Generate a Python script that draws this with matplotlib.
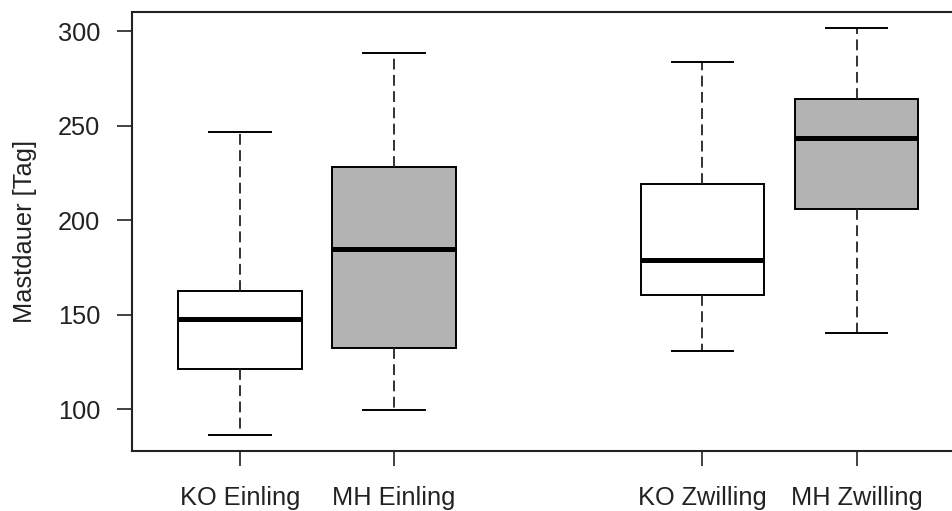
import matplotlib
matplotlib.use("Agg")
import matplotlib.pyplot as plt

labels = ["KO Einling", "MH Einling", "KO Zwilling", "MH Zwilling"]
positions = [1, 2, 4, 5]
whislo = [86.4, 99.3, 130.9, 140.3]
q1 = [121.2, 132.4, 160.5, 205.8]
med = [147.4, 184.7, 178.9, 243.3]
q3 = [162.3, 228.2, 219.1, 264.2]
whishi = [246.5, 288.6, 283.5, 301.5]
fills = ["white", "#b3b3b3", "white", "#b3b3b3"]
yticks = [100, 150, 200, 250, 300]

W, H = 953, 511
fig = plt.figure(figsize=(W / 100, H / 100), dpi=100)
left, right, top, bottom = 132, 964.5, 12, 451
ax = fig.add_axes([left / W, 1 - bottom / H, (right - left) / W, (bottom - top) / H])

stats = [dict(label=l, whislo=a, q1=b, med=c, q3=d, whishi=e)
         for l, a, b, c, d, e in zip(labels, whislo, q1, med, q3, whishi)]
res = ax.bxp(stats, positions=positions, widths=0.8, showfliers=False,
             patch_artist=True,
             boxprops=dict(edgecolor="black", linewidth=1.4),
             medianprops=dict(color="black", linewidth=3.6, solid_capstyle="butt"),
             whiskerprops=dict(color="#222222", linewidth=1.3, linestyle=(0, (6, 3))),
             capprops=dict(color="black", linewidth=1.4),
             capwidths=0.4)
for patch, fc in zip(res["boxes"], fills):
    patch.set_facecolor(fc)

ax.set_xlim(0.3, 5.7)
ax.set_ylim(77.8, 310.1)
ax.set_yticks(yticks)
ax.set_yticklabels([str(v) for v in yticks], family="Liberation Sans", fontsize=18.3, color="#222222")
ax.set_xticks(positions)
ax.set_xticklabels(labels, family="Liberation Sans", fontsize=18.3, color="#222222")
ax.tick_params(axis="both", length=11, width=1.3, color="#333333")
ax.tick_params(axis="y", pad=12)
ax.tick_params(axis="x", pad=14)
for s in ax.spines.values():
    s.set_linewidth(1.5)
    s.set_color("#222222")
ax.set_ylabel("Mastdauer [Tag]", family="Liberation Sans", fontsize=18.3, color="#222222", labelpad=15)

fig.savefig("out.png", dpi=100)
